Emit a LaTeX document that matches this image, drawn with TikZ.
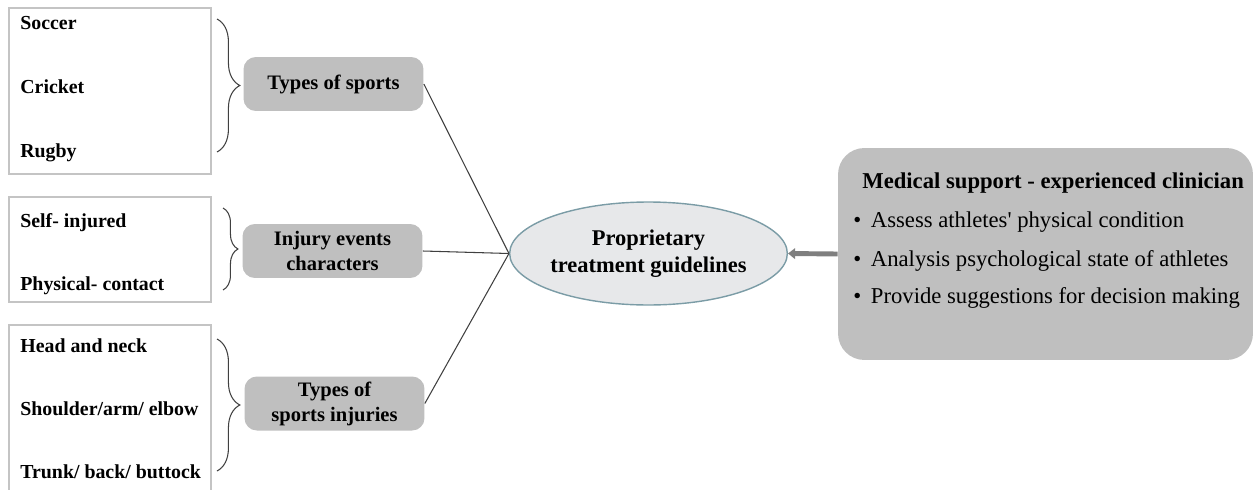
\documentclass[tikz,border=0pt]{standalone}
\usepackage{fontspec}
\setmainfont{Liberation Serif}
\usetikzlibrary{shapes.geometric, arrows.meta, decorations.pathreplacing}

\definecolor{boxgray}{HTML}{BFBFBF}
\definecolor{framegray}{HTML}{C4C4C4}
\definecolor{ellfill}{HTML}{E7E8EA}
\definecolor{ellborder}{HTML}{7B9CA6}
\definecolor{arrowgray}{HTML}{7F7F7F}
\definecolor{bracegray}{HTML}{404040}
\definecolor{linegray}{HTML}{404040}

\begin{document}
\begin{tikzpicture}[
    x=0.02cm, y=-0.02cm,
    listbox/.style={rectangle, draw=framegray, line width=1.1pt, minimum width=4.04cm},
    item/.style={anchor=base west, inner sep=0pt, font=\fontsize{11.3}{13}\selectfont\bfseries},
    group/.style={rectangle, rounded corners=7pt, fill=boxgray, minimum width=3.6cm, minimum height=1.08cm, inner sep=0pt, align=center, font=\fontsize{11.7}{14.2}\selectfont\bfseries},
    centre/.style={ellipse, draw=ellborder, fill=ellfill, line width=0.8pt, minimum width=5.14cm, minimum height=2.06cm, inner sep=0pt, align=center, font=\fontsize{12.8}{15.3}\selectfont\bfseries},
    support/.style={rectangle, rounded corners=15pt, fill=boxgray, minimum width=8.3cm, minimum height=4.24cm},
    heading/.style={anchor=base west, inner sep=0pt, font=\fontsize{12.9}{15}\selectfont\bfseries},
    point/.style={anchor=base west, inner sep=0pt, font=\fontsize{12.9}{15}\selectfont},
    curly/.style={decorate, decoration={brace, amplitude=#1}, draw=bracegray, line width=0.6pt},
    link/.style={draw=linegray, line width=0.6pt},
    feed/.style={-{Triangle[length=4pt, width=6pt]}, draw=arrowgray, line width=2.8pt}
]
\useasboundingbox (0,0) rectangle (1254,490);

% List boxes
\node[listbox, minimum height=3.32cm] (list1) at (110,91) {};
\node[listbox, minimum height=2.1cm] (list2) at (110,249.5) {};
\node[listbox, minimum height=3.6cm] (list3) at (110,415) {};

% List items
\node[item] (soccer) at (20,30) {Soccer};
\node[item] (cricket) at (20,93) {Cricket};
\node[item] (rugby) at (20,157) {Rugby};

\node[item] (self) at (20,227) {Self- injured};
\node[item] (contact) at (20,290) {Physical- contact};

\node[item] (head) at (20,352) {Head and neck};
\node[item] (shoulder) at (20,415) {Shoulder/arm/ elbow};
\node[item] (trunk) at (20,478) {Trunk/ back/ buttock};

% Braces
\draw[curly=13pt] (217,19) -- (217,152);
\draw[curly=8.5pt] (223,208) -- (223,290);
\draw[curly=13pt] (217,339) -- (217,471);

% Group boxes
\node[group] (sports) at (333.5,84) {Types of sports};
\node[group] (events) at (332.5,251) {Injury events\\characters};
\node[group] (injuries) at (334.5,403.5) {Types of\\sports injuries};

% Centre
\node[centre] (ptg) at (648.5,253.5) {Proprietary\\treatment guidelines};

% Medical support
\node[support] (med) at (1045.5,254) {};
\node[heading] (medtitle) at (862,188) {Medical support - experienced clinician};
\node[point] (assess) at (853,227) {\textbullet\hspace{5.5pt}Assess athletes\textquotesingle\ physical condition};
\node[point] (analysis) at (853,266) {\textbullet\hspace{5.5pt}Analysis psychological state of athletes};
\node[point] (provide) at (853,303) {\textbullet\hspace{5.5pt}Provide suggestions for decision making};

% Connections
\draw[link] (sports.east) -- (ptg.west);
\draw[link] (events.east) -- (ptg.west);
\draw[link] (injuries.east) -- (ptg.west);
\draw[feed] (med.west) -- (ptg.east);

\end{tikzpicture}
\end{document}
